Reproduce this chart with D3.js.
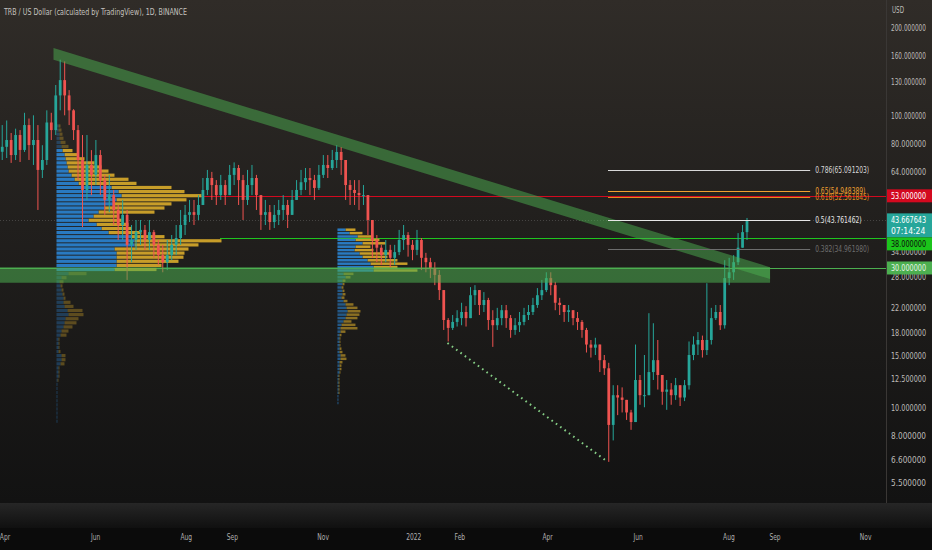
<!DOCTYPE html>
<html><head><meta charset="utf-8">
<script src="https://cdn.jsdelivr.net/npm/d3@7/dist/d3.min.js"></script>
<style>html,body{margin:0;padding:0;background:#111;overflow:hidden}</style>
</head><body>
<script>
// ---------- DATA ----------
const title = "TRB / US Dollar (calculated by TradingView), 1D, BINANCE";
const startDate = "2021-03-29";   // first candle
const stepDays = 3;               // candle period (days)
const firstOpen = 75;
const closes = [78,82.3,73.1,85.6,76.1,92.6,79.1,82.3,65,70.3,
94.5,89,117,132,117,104,89,70.3,55.5,67.6,
62.5,73.1,60,51.3,53.3,47.4,42.1,45.6,36,37.4,
39.8,40.5,37.4,39.8,36,33.2,31.4,33.2,36,38,
42.1,45.6,46.6,45.6,49.3,55.5,61,57.7,53.3,57.7,
53.3,62.5,66,60,51.3,57.7,61,53.3,45.6,46.6,
43.1,45.6,47.4,49.3,45.6,51.3,55.5,59,61,60,
56.4,62.5,67.6,66,70.3,74.9,70.3,57.7,55.5,54.2,
53.3,53.3,43.8,37.4,35.2,33.2,34.6,32.5,34,37.4,
38.9,36,34.6,37.4,32.5,31.4,30,28.4,25.2,19.9,
18.7,19.6,20.2,21.2,20.2,24.2,25.2,22.4,23.3,19.9,
19.1,20.2,21.5,20.2,18.4,19.1,19.6,20.7,21.2,22.4,
24.2,25.2,27.7,26.2,22.8,22.4,21.2,21.5,20.2,19.6,
18.4,16.4,16,16.4,14.5,13.6,8.7,11,10.8,10.6,
9.6,8.9,12.4,11,11,13.2,14.5,12.9,11.3,11.5,
11,11.9,10.8,11.9,15.1,16.4,17,15.7,17,20.2,
21.2,19.1,27.7,29,31.4,35.2,39.8,43.667643];
const highs = [92.6,96,87,90,89,102,97.5,100,92.6,79,
104,102,127,155,153,122,105,92.6,85.6,85.6,
76,82.3,76,62.5,62.5,55.5,49.3,51.3,47.4,42.1,
43.8,43.8,42.1,43.8,40.5,37.4,36,37.4,38.9,42.1,
47.4,49.3,51.3,51.3,53.3,61,65,64,60,62.5,
60,67.6,69,67.6,62.5,65,67.6,62.5,53.3,51.3,
49.3,49.3,51.3,53.3,51.3,55.5,60,65,66,66,
62.5,67.6,73.1,73.1,76.1,79,77.9,70.3,60,60,
60,57.7,53.3,42.1,38.9,36,37.4,36,36,40.5,
42.1,39.8,37.4,40.5,38,33.8,32.5,31.4,29.5,25.2,
20.2,20.7,21.5,22.8,22.2,25.8,26.2,25.2,24.8,23.7,
21.5,21.9,22.4,22.4,20.7,20.2,21.2,21.9,22.4,23.7,
25.6,27.3,29,29,26.9,23.7,22.4,22.4,21.5,21.2,
19.9,18.7,17,17.3,16.4,15.1,14.2,11.9,11.9,11.7,
10.6,9.8,16.4,12.9,15.1,21,19.4,17,12.9,12.4,
12.1,12.6,11.9,12.4,16.8,17.5,18.1,17.6,26.6,21.9,
22.4,22.4,31.9,32.5,33.2,39.5,42.1,44.5];
const lows = [70.3,71.4,68.7,70.3,69.2,74.9,70.3,67.6,47.4,61,
67.6,82.3,85.6,104,100,92.6,82.3,60,41.4,51.3,
53.3,57.7,53.3,45.6,46.6,42.1,37.4,37.4,27.3,31.4,
34.6,36,34.6,34.6,32.5,30.7,29,29.5,31.9,33.2,
36,38.9,43.1,42.1,43.8,49.3,53.3,51.3,49.3,51.3,
49.3,53.3,57.7,49.3,43.8,49.3,53.3,47.4,40.5,42.1,
40.5,41.1,42.1,43.8,41.1,45.6,51.3,53.3,55.5,53.3,
51.3,55.5,61,61,65,66,62.5,51.3,49.3,49.3,
47.4,49.3,38.9,32.5,31.4,30.7,31.4,30,30.7,33.2,
34.6,32.8,31.9,33.2,29.5,29,27.7,26.2,23.3,18.4,
16.8,18.4,18.9,19.1,18.9,20.2,22.4,20.7,21.2,18.4,
16.1,18.4,19.1,18.7,17.3,17.7,18.1,19.1,19.9,20.7,
21.9,23.3,24.8,24.2,21.5,20.7,19.6,19.6,19.1,18.4,
17.3,15.4,14.8,15.1,13.2,12.9,6.5,7.7,9.4,9.6,
9.05,8.37,8.9,10.2,10,11.5,12.4,11.5,10.2,9.8,
10.2,10.6,10.1,10.5,11.5,14.5,15.1,14.8,15.1,16.4,
19.9,18.4,18.6,26.2,27.3,30.7,36,37.4];

// Volume profile 1 (rows top -> bottom)
const vp1 = {anchor:"2021-05-06", top:93.4, bottom:8.81, vaFrom:6, vaTo:35,
 up:[2,2,3,3,4,5,6,8,9,10, 11,12,15,18,22,55,62,65,60,57, 48,42,37,32,40,45,52,75,78,78,
     58,60,60,60,60,58,12,5,3,4, 5,6,7,7,8,11,12,9,8,7, 5,4,2,2,2,2,5,5,4,2, 2,2,1,1,1,1,1,1,1,1, 1,1,1],
 total:[4,5,6,7,9,12,16,22,28,38, 45,52,58,72,80,115,128,145,130,115, 108,98,62,65,72,75,85,108,165,142,
     132,128,127,122,105,100,30,10,7,6, 7,8,9,14,17,26,27,22,20,16, 12,10,3,3,3,4,9,9,8,3, 3,3,2,1,1,1,1,1,1,1, 1,1,1]};
// Volume profile 2
const vp2 = {anchor:"2021-11-11", top:41.1, bottom:10.2, vaFrom:0, vaTo:12,
 up:[8,12,20,18,25,18,17,22,25,30, 33,36,36,6,8,5,5,4,5,5, 4,6,8,9,10,9,8,6,4,3, 3,2,2,2,2,2,2,3,3,2, 2,2,2,1,1,1,1,1,1,1, 1,1],
 total:[18,25,35,42,48,33,36,52,50,60, 70,60,80,16,13,8,7,6,7,8, 7,10,16,20,23,22,20,14,18,20, 8,4,3,3,3,4,5,8,9,5, 4,4,3,2,2,2,2,2,2,1, 1,1]};

// Drawings
const trendBand = {from:"2021-05-04", to:"2022-08-29", fromTop:170, fromBottom:155, toTop:30.2, toBottom:27.5};
const supportZone = {from:"2021-03-29", to:"2022-08-29", top:30.2, bottom:26.7};
const hLines = [
  {price:53, from:"2021-08-10", color:"#d3091f", label:"53.000000", bg:"#d3091f", fg:"#ffffff"},
  {price:38, from:"2021-08-24", color:"#1fc41f", label:"38.000000", bg:"#1bc41b", fg:"#0c0c0c"},
  {price:30, from:"2021-03-29", color:"#4caf50", label:"30.000000", bg:"#4caf50", fg:"#e8f5e8"}
];
const fibFrom = "2022-05-12", fibTo = "2022-09-25";
const fibLevels = [0.786, 0.65, 0.618, 0.5, 0.382];
const fibPrices = [65.091203, 54.948389, 52.561845, 43.761462, 34.961980];
const fibColors = ["#d8d8d8","#f0a030","#e08a20","#e6e6e6","#6d6d6d"];
const dotted = {from:"2022-01-24", to:"2022-05-10", p1:16.6, p2:6.6};
const lastPrice = 43.667643, countdown = "07:14:24";
const priceTicks = [200,160,130,100,80,64,34,28,22,18,15,12.5,10,8,6.6,5.5];
const timeTicks = ["2021-04-01","2021-06-01","2021-08-01","2021-09-01","2021-11-01","2022-01-01","2022-02-01","2022-04-01","2022-06-01","2022-08-01","2022-09-01","2022-11-01"];
const timeLabels = ["Apr","Jun","Aug","Sep","Nov","2022","Feb","Apr","Jun","Aug","Sep","Nov"];

// ---------- LAYOUT ----------
const W = 932, H = 550, PW = 886, PH = 503;
const F = "'Liberation Sans Narrow','DejaVu Sans Condensed','Roboto',sans-serif";
const NARROW = 0.78; // horizontal squeeze to mimic the condensed UI font
const pd = s => new Date(s + "T00:00:00Z");
const x = d3.scaleUtc().domain([pd("2021-03-29"), pd("2022-11-15")]).range([0, PW]);
const y = d3.scaleLog().domain([4.7, 248.3]).range([PH, 0]);

function squeeze(sel, target) {
  sel.each(function() {
    const w = this.getComputedTextLength();
    const t = target != null ? Math.min(target, w) : w * NARROW;
    if (w > 0) d3.select(this).attr("textLength", t).attr("lengthAdjust", "spacingAndGlyphs");
  });
}

const svg = d3.select("body").append("svg").attr("width", W).attr("height", H)
  .style("display","block").style("font-family", F);
const defs = svg.append("defs");
const g1 = defs.append("linearGradient").attr("id","bg").attr("x1",0).attr("y1",0).attr("x2",0).attr("y2",1);
g1.append("stop").attr("offset","0").attr("stop-color","#302c28");
g1.append("stop").attr("offset","0.45").attr("stop-color","#211f1d");
g1.append("stop").attr("offset","1").attr("stop-color","#121212");
const g2 = defs.append("linearGradient").attr("id","bot").attr("x1",0).attr("y1",0).attr("x2",0).attr("y2",1);
g2.append("stop").attr("offset","0").attr("stop-color","#262626");
g2.append("stop").attr("offset","1").attr("stop-color","#101010");
defs.append("clipPath").attr("id","clip").append("rect").attr("width",PW).attr("height",PH);

svg.append("rect").attr("width",W).attr("height",H).attr("fill","#0b0b0b");
svg.append("rect").attr("width",W).attr("height",PH).attr("fill","url(#bg)");
svg.append("rect").attr("y",PH).attr("width",W).attr("height",25).attr("fill","url(#bot)");
svg.append("line").attr("x1",PW+0.5).attr("x2",PW+0.5).attr("y1",0).attr("y2",PH).attr("stroke","#3a3735");

const plot = svg.append("g").attr("clip-path","url(#clip)");

// horizontal lines
const lineG = plot.append("g");
lineG.append("line").attr("x1",0).attr("x2",PW).attr("y1",Math.round(y(lastPrice))+0.5).attr("y2",Math.round(y(lastPrice))+0.5)
  .attr("stroke","#8a8a8a").attr("stroke-opacity",0.35).attr("stroke-dasharray","1 2");
hLines.forEach(h => {
  const yy = Math.round(y(h.price)) + 0.5;
  lineG.append("line").attr("x1", x(pd(h.from))).attr("x2", PW).attr("y1", yy).attr("y2", yy)
    .attr("stroke", h.color).attr("stroke-width", 1.2);
});

// volume profiles
function drawProfile(vp, dimOpacity) {
  const n = vp.total.length;
  const y0 = y(vp.top), y1 = y(vp.bottom), rh = (y1 - y0) / n;
  const x0 = x(pd(vp.anchor));
  const w = d3.scaleLinear().domain([0, 100]).range([0, 100]);
  const gp = plot.append("g");
  vp.total.forEach((t, i) => {
    const op = (i >= vp.vaFrom && i <= vp.vaTo) ? 0.92 : dimOpacity;
    const yy = y0 + i * rh + 0.4, hh = Math.max(rh - 0.9, 0.8);
    gp.append("rect").attr("x", x0 + w(vp.up[i])).attr("y", yy).attr("width", Math.max(w(t - vp.up[i]), 0))
      .attr("height", hh).attr("fill", "#d6a82a").attr("opacity", op);
    gp.append("rect").attr("x", x0).attr("y", yy).attr("width", w(vp.up[i]))
      .attr("height", hh).attr("fill", "#2a82cf").attr("opacity", op);
  });
}
drawProfile(vp1, 0.35);
drawProfile(vp2, 0.6);

// candles
const candles = closes.map((c, i) => {
  const o = i ? closes[i - 1] : firstOpen;
  return {t: d3.utcHour.offset(pd(startDate), (i * stepDays + stepDays / 2) * 24), o, c,
          h: Math.max(highs[i], o, c), l: Math.min(lows[i], o, c)};
});
const bw = (x(pd("2021-04-04")) - x(pd("2021-04-01"))) * 0.62;
const cg = plot.append("g");
candles.forEach(d => {
  const col = d.c >= d.o ? "#26a69a" : "#ef5350";
  const cx = x(d.t);
  cg.append("line").attr("x1", cx).attr("x2", cx).attr("y1", y(d.h)).attr("y2", y(d.l))
    .attr("stroke", col).attr("stroke-width", 1);
  const yt = y(Math.max(d.o, d.c)), yb = y(Math.min(d.o, d.c));
  cg.append("rect").attr("x", cx - bw / 2).attr("y", yt).attr("width", bw).attr("height", Math.max(yb - yt, 1))
    .attr("fill", col);
});

// bands
plot.append("rect").attr("x", x(pd(supportZone.from))).attr("y", y(supportZone.top))
  .attr("width", x(pd(supportZone.to)) - x(pd(supportZone.from))).attr("height", y(supportZone.bottom) - y(supportZone.top))
  .attr("fill", "#4caf50").attr("opacity", 0.55);
plot.append("polygon").attr("points", [
  [x(pd(trendBand.from)), y(trendBand.fromTop)], [x(pd(trendBand.to)), y(trendBand.toTop)],
  [x(pd(trendBand.to)), y(trendBand.toBottom)], [x(pd(trendBand.from)), y(trendBand.fromBottom)]
].map(p => p.join(",")).join(" ")).attr("fill", "#4caf50").attr("opacity", 0.5);

// fib
const fg = plot.append("g");
fibLevels.forEach((lv, i) => {
  const yy = Math.round(y(fibPrices[i])) + 0.5;
  fg.append("line").attr("x1", x(pd(fibFrom))).attr("x2", x(pd(fibTo))).attr("y1", yy).attr("y2", yy)
    .attr("stroke", fibColors[i]).attr("stroke-width", 1);
  const t = fg.append("text").attr("x", x(pd(fibTo)) + 5).attr("y", yy).attr("dy", "0.35em")
    .attr("fill", fibColors[i]).attr("font-size", "8.5px").text(lv + "(" + fibPrices[i].toFixed(6) + ")");
  squeeze(t);
});

// dotted
plot.append("line").attr("x1", x(pd(dotted.from))).attr("y1", y(dotted.p1)).attr("x2", x(pd(dotted.to))).attr("y2", y(dotted.p2))
  .attr("stroke", "#86cf86").attr("stroke-width", 2).attr("stroke-dasharray", "1.6 3.8");

// title
squeeze(svg.append("text").attr("x", 4).attr("y", 15).attr("fill", "#c4c2bf").attr("font-size", "8.5px").text(title), 183);

// price axis
const ay = svg.append("g").attr("transform", `translate(${PW},0)`)
  .call(d3.axisRight(y).tickValues(priceTicks).tickFormat(d => d.toFixed(6)).tickSize(0).tickPadding(5));
ay.select(".domain").remove();
ay.selectAll("text").attr("fill", "#bdbbb8").attr("font-size", "8.5px").attr("font-family", F);
squeeze(ay.selectAll("text"), 35);
squeeze(svg.append("text").attr("x", 892).attr("y", 13).attr("fill", "#bdbbb8").attr("font-size", "8px").text("USD"));

// price labels
function box(yc, h, bg) {
  svg.append("rect").attr("x", PW + 1).attr("y", yc).attr("width", W - PW - 1).attr("height", h).attr("fill", bg);
}
const lab = (tx, ty, txt, fill) => squeeze(svg.append("text").attr("x", tx).attr("y", ty).attr("dy", "0.35em")
  .attr("fill", fill).attr("font-size", "8.5px").text(txt), 35);
// 53
{ const h = hLines[0], yy = y(h.price); box(yy - 6.5, 13, h.bg); lab(891, yy, h.label, h.fg); }
// last price
{ const yy = y(lastPrice); box(yy - 7, 24, "#26a69a"); lab(891, yy, lastPrice.toFixed(6), "#ffffff"); lab(891, yy + 11, countdown, "#ffffff"); }
// 38 (pushed below last price box)
{ const h = hLines[1], yy = y(lastPrice) + 17 + 6.5; box(yy - 6.5, 13, h.bg); lab(891, yy, h.label, h.fg); }
// 30
{ const h = hLines[2], yy = y(h.price); box(yy - 6.5, 13, h.bg); lab(891, yy, h.label, h.fg); }

// time axis
const ax = svg.append("g").attr("transform", `translate(0,534)`)
  .call(d3.axisBottom(x).tickValues(timeTicks.map(pd)).tickFormat((d, i) => timeLabels[i]).tickSize(0).tickPadding(0));
ax.select(".domain").remove();
ax.selectAll("text").attr("fill", "#aeaeae").attr("font-size", "8.5px").attr("font-family", F);
squeeze(ax.selectAll("text"));
</script>
</body></html>
